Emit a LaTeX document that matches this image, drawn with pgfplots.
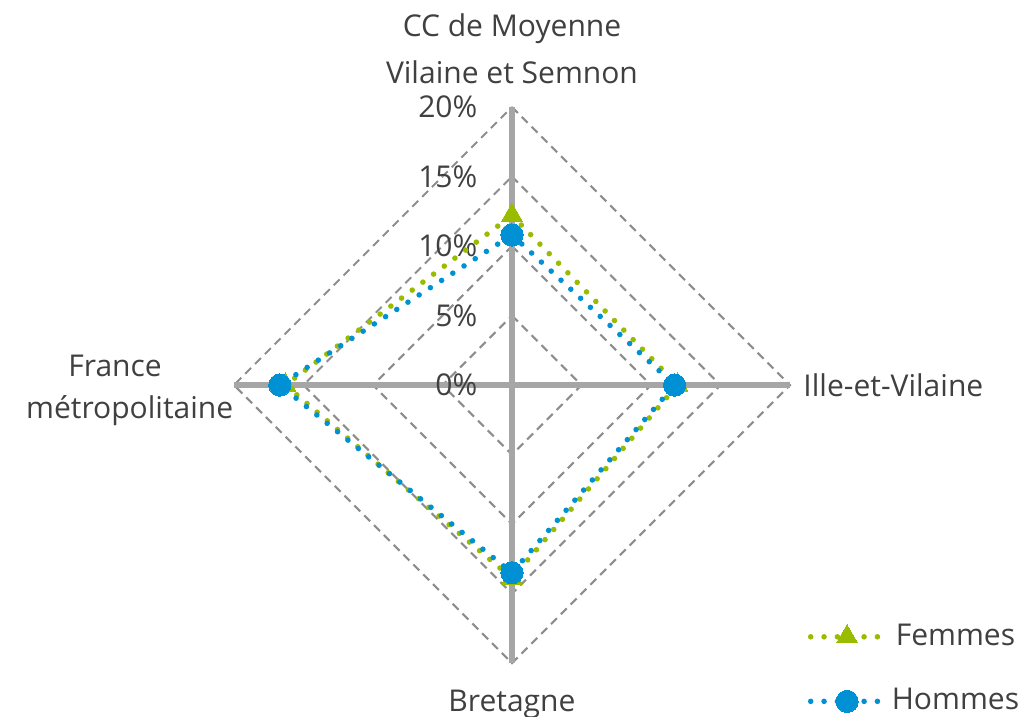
\documentclass[border=0pt]{standalone}
\usepackage{fontspec}
\setmainfont{Open Sans}
\usepackage{pgfplots}
\pgfplotsset{compat=1.18}
\definecolor{fem}{HTML}{99BB00}
\definecolor{hom}{HTML}{0090D4}
\definecolor{spoke}{HTML}{A6A6A6}
\definecolor{txt}{HTML}{404040}
\begin{document}
\begin{tikzpicture}
\begin{axis}[
  x=5pt, y=5pt,
  xmin=-36.83, xmax=37.05, ymin=-23.81, ymax=27.7,
  hide axis, clip=false,
  legend style={at={(axis cs:20.65,-16.35)}, anchor=north west, draw=none, fill=none,
    font=\fontsize{10.8}{13}\selectfont\color{txt}, row sep=10pt,
    /tikz/every even column/.append style={column sep=4pt}},
  legend image code/.code={\draw[#1, mark repeat=2, mark phase=2] plot coordinates {(0cm,0cm) (0.46cm,0cm) (0.92cm,0cm)};},
  every axis plot/.append style={line width=2.0pt, line cap=round, dash pattern=on 0pt off 4.8pt},
]
% dashed diamond grid
\foreach \r in {5,10,15,20}{
  \edef\tmp{\noexpand\draw[spoke!85!black, line width=0.75pt, dash pattern=on 3pt off 2pt]
    (axis cs:0,\r) -- (axis cs:\r,0) -- (axis cs:0,-\r) -- (axis cs:-\r,0) -- cycle;}
  \tmp
}
% spokes
\draw[spoke, line width=2.2pt] (axis cs:0,20) -- (axis cs:0,-20);
\draw[spoke, line width=2.2pt] (axis cs:-20,0) -- (axis cs:20,0);
% tick labels
\foreach \v/\l in {0/0\%,5/5\%,10/10\%,15/15\%,20/20\%}{
  \edef\tmp{\noexpand\node[anchor=east, inner sep=0pt, text=txt, font=\noexpand\fontsize{10.8}{13}\noexpand\selectfont] at (axis cs:-2.45,\v) {\l};}
  \tmp
}
\addplot[fem, mark=triangle*, mark size=4.4pt, mark options={solid, line width=0pt}, data cs=polar]
  coordinates {(90,12.2) (0,11.9) (270,13.9) (180,16.3) (90,12.2)};
\addlegendentry{Femmes}
\addplot[hom, mark=*, mark size=4.0pt, mark options={solid, line width=0pt}, data cs=polar]
  coordinates {(90,10.8) (0,11.7) (270,13.5) (180,16.7) (90,10.8)};
\addlegendentry{Hommes}
% category labels
\begin{scope}[every node/.style={text=txt, font=\fontsize{10.8}{13}\selectfont, inner sep=0pt}]
\node at (axis cs:0,25.65) {CC de Moyenne};
\node at (axis cs:0,22.5) {Vilaine et Semnon};
\node[anchor=west] at (axis cs:20.93,0) {Ille-et-Vilaine};
\node at (axis cs:0,-23.0) {Bretagne};
\node at (axis cs:-28.55,1.35) {France};
\node at (axis cs:-27.5,-1.85) {métropolitaine};
\end{scope}
\coordinate (bl) at (axis cs:-36.83,-23.81);
\coordinate (tr) at (axis cs:37.05,27.7);
\end{axis}
\pgfresetboundingbox
\path (bl) rectangle (tr);
\end{tikzpicture}
\end{document}
